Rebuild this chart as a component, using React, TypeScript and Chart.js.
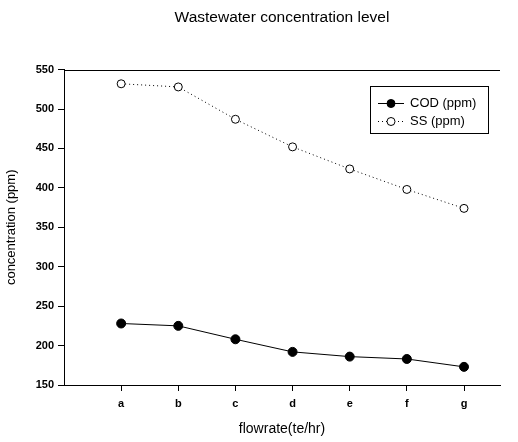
import React, { useEffect, useRef } from "react";
import { Chart, registerables } from "chart.js";

Chart.register(...registerables);

const categories = ["a", "b", "c", "d", "e", "f", "g"];
const codValues = [228, 225, 208, 192, 186, 183, 173];
const ssValues = [532, 528, 487, 452, 424, 398, 374];
const yTicks = [150, 200, 250, 300, 350, 400, 450, 500, 550];
const seriesNames = ["COD (ppm)", "SS (ppm)"];

const FONT = "'Liberation Sans', Arial, sans-serif";

const frameAndLegend = {
  id: "frameAndLegend",
  afterDraw(chart: any) {
    const { ctx, chartArea } = chart;
    ctx.save();
    ctx.strokeStyle = "#000";
    ctx.lineWidth = 1;
    ctx.setLineDash([]);
    const ty = Math.round(chartArea.top) + 0.5;
    ctx.beginPath();
    ctx.moveTo(chartArea.left, ty);
    ctx.lineTo(chartArea.right, ty);
    ctx.stroke();

    const bx = Math.round(chartArea.right - 130);
    const by = Math.round(chartArea.top + 16);
    const bw = 118;
    const bh = 47;
    ctx.strokeRect(bx + 0.5, by + 0.5, bw, bh);
    chart.data.datasets.forEach((ds: any, i: number) => {
      const y = by + 17 + i * 18;
      const x0 = bx + 8;
      const x1 = bx + 34;
      const mx = bx + 21;
      ctx.strokeStyle = "#000";
      ctx.lineWidth = 1;
      ctx.setLineDash(ds.borderDash || []);
      ctx.beginPath();
      ctx.moveTo(x0, y + 0.5);
      ctx.lineTo(x1, y + 0.5);
      ctx.stroke();
      ctx.setLineDash([]);
      ctx.beginPath();
      ctx.arc(mx, y + 0.5, 4, 0, Math.PI * 2);
      ctx.fillStyle = ds.pointBackgroundColor;
      ctx.fill();
      ctx.stroke();
      ctx.fillStyle = "#000";
      ctx.font = `13px ${FONT}`;
      ctx.textBaseline = "middle";
      ctx.textAlign = "left";
      ctx.fillText(ds.label, x1 + 6, y);
    });
    ctx.restore();
  },
};

export default function App() {
  const ref = useRef<HTMLCanvasElement>(null);
  useEffect(() => {
    if (!ref.current) return;
    const chart = new Chart(ref.current, {
      type: "line",
      data: {
        datasets: [
          {
            label: seriesNames[0],
            data: codValues.map((v, i) => ({ x: i + 1, y: v })),
            borderColor: "#000",
            borderWidth: 1,
            pointBackgroundColor: "#000",
            pointBorderColor: "#000",
            pointRadius: 4.5,
            borderDash: [],
          },
          {
            label: seriesNames[1],
            data: ssValues.map((v, i) => ({ x: i + 1, y: v })),
            borderColor: "#000",
            borderWidth: 1,
            borderDash: [1, 3],
            pointBackgroundColor: "#fff",
            pointBorderColor: "#000",
            pointBorderWidth: 1,
            pointRadius: 4,
          },
        ],
      },
      options: {
        animation: false,
        responsive: true,
        maintainAspectRatio: false,
        layout: { padding: { left: 0, right: 18, top: 0, bottom: 0 } },
        plugins: {
          legend: { display: false },
          tooltip: { enabled: false },
          title: {
            display: true,
            fullSize: false,
            text: "Wastewater concentration level",
            color: "#000",
            font: { family: FONT, size: 15.5, weight: "normal" },
            padding: { top: 8, bottom: 43 },
          },
        },
        scales: {
          x: {
            type: "linear",
            min: 0,
            max: 7.63,
            afterBuildTicks: (axis: any) => {
              axis.ticks = categories.map((_, i) => ({ value: i + 1 }));
            },
            afterFit: (axis: any) => {
              axis.height = 57;
            },
            border: { display: true, color: "#000", width: 1 },
            grid: { drawOnChartArea: false, drawTicks: true, tickLength: 6, color: "#000" },
            ticks: {
              color: "#000",
              font: { family: FONT, size: 11, weight: "bold" },
              padding: 6,
              callback: (v: any) => categories[Math.round(v) - 1] ?? "",
            },
            title: {
              display: true,
              text: "flowrate(te/hr)",
              color: "#000",
              font: { family: FONT, size: 14 },
              padding: { top: 8 },
            },
          },
          y: {
            type: "linear",
            min: yTicks[0],
            max: yTicks[yTicks.length - 1],
            afterBuildTicks: (axis: any) => {
              axis.ticks = yTicks.map((v) => ({ value: v }));
            },
            afterFit: (axis: any) => {
              axis.width = 64;
            },
            border: { display: true, color: "#000", width: 1 },
            grid: { drawOnChartArea: false, drawTicks: true, tickLength: 6, color: "#000" },
            ticks: {
              color: "#000",
              font: { family: FONT, size: 11, weight: "bold" },
              padding: 4,
            },
            title: {
              display: true,
              text: "concentration (ppm)",
              color: "#000",
              font: { family: FONT, size: 13 },
              padding: { bottom: 4 },
            },
          },
        },
      },
      plugins: [frameAndLegend],
    } as any);
    return () => chart.destroy();
  }, []);
  return (
    <div style={{ position: "absolute", left: 0, top: 0, width: 518, height: 442, background: "#fff" }}>
      <canvas ref={ref} />
    </div>
  );
}
